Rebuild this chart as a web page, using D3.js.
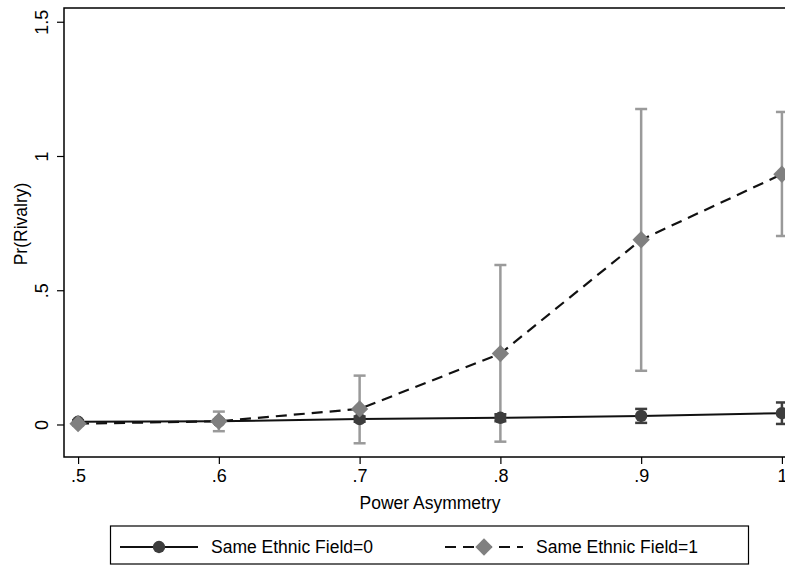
<!DOCTYPE html>
<html>
<head>
<meta charset="utf-8">
<script src="https://cdn.jsdelivr.net/npm/d3@7"></script>
<style>
	body { margin: 0; background: #fff; }
	svg { font-family: "Liberation Sans", Arial, Helvetica, sans-serif; }
</style>
</head>
<body>
<div id="chart"></div>
<script>
// x values (power asymmetry)
var powerAsym = [0.5, 0.6, 0.7, 0.8, 0.9, 1.0];
var xTickLabels = [".5", ".6", ".7", ".8", ".9", "1"];
var yTicks = [0, 0.5, 1, 1.5];
var yTickLabels = ["0", ".5", "1", "1.5"];

// Same Ethnic Field=0
var est0 = [0.010, 0.012, 0.020, 0.025, 0.032, 0.042];
var lo0 = [0.004, 0.006, 0.010, 0.012, 0.006, 0.002];
var hi0 = [0.016, 0.018, 0.030, 0.038, 0.058, 0.082];

// Same Ethnic Field=1
var est1 = [0.003, 0.012, 0.058, 0.264, 0.688, 0.932];
var lo1 = [-0.004, -0.025, -0.070, -0.064, 0.200, 0.702];
var hi1 = [0.010, 0.048, 0.182, 0.594, 1.175, 1.164];

var seriesNames = ["Same Ethnic Field=0", "Same Ethnic Field=1"];

var width = 785, height = 566;
var margin = {top: 8, right: -11, bottom: 109, left: 64};
var innerW = width - margin.left - margin.right;
var innerH = height - margin.top - margin.bottom;

var svg = d3.select("#chart").append("svg")
		.attr("width", width)
		.attr("height", height);

var g = svg.append("g")
		.attr("transform", "translate(" + margin.left + "," + margin.top + ")");

var xScale = d3.scaleLinear().domain([0.49, 1.01]).range([0, innerW]);
var yScale = d3.scaleLinear().domain([-0.1211, 1.5512]).range([innerH, 0]);

// frame
g.append("rect")
		.attr("x", 0).attr("y", 0)
		.attr("width", innerW).attr("height", innerH)
		.attr("fill", "none").attr("stroke", "#000").attr("stroke-width", 1.5);

// axes
var xAxis = d3.axisBottom(xScale)
		.tickValues(powerAsym)
		.tickFormat(function(d, i) { return xTickLabels[i]; })
		.tickSize(7).tickPadding(5);
var yAxis = d3.axisLeft(yScale)
		.tickValues(yTicks)
		.tickFormat(function(d, i) { return yTickLabels[i]; })
		.tickSize(7).tickPadding(9);

var gx = g.append("g").attr("transform", "translate(0," + innerH + ")").call(xAxis);
var gy = g.append("g").call(yAxis);
g.selectAll(".domain").remove();
g.selectAll(".tick line").attr("stroke", "#000").attr("stroke-width", 1.2);
gx.selectAll("text").attr("font-size", 18).attr("fill", "#000").attr("font-family", null);
gy.selectAll("text")
		.attr("font-size", 18).attr("fill", "#000").attr("font-family", null)
		.attr("transform", "rotate(-90)")
		.attr("x", 0).attr("y", -16)
		.attr("dy", 0)
		.attr("text-anchor", "middle");
gx.attr("font-family", null);
gy.attr("font-family", null);

// axis titles
svg.append("text")
		.attr("x", margin.left + innerW / 2).attr("y", 509)
		.attr("text-anchor", "middle").attr("font-size", 17.5)
		.text("Power Asymmetry");
svg.append("text")
		.attr("transform", "translate(27," + 224 + ") rotate(-90)")
		.attr("text-anchor", "middle").attr("font-size", 17.5)
		.text("Pr(Rivalry)");

var c0 = "#3d3d3d", c1 = "#808080", ci1 = "#9a9a9a";

function pts(est, lo, hi) {
	return powerAsym.map(function(x, i) { return {x: x, y: est[i], lo: lo[i], hi: hi[i]}; });
}
var d0 = pts(est0, lo0, hi0);
var d1 = pts(est1, lo1, hi1);

function errorBars(data, color, sw) {
	var eb = g.append("g").selectAll("g").data(data).enter().append("g")
			.attr("stroke", color).attr("stroke-width", sw);
	eb.append("line")
			.attr("x1", function(d) { return xScale(d.x); })
			.attr("x2", function(d) { return xScale(d.x); })
			.attr("y1", function(d) { return yScale(d.lo); })
			.attr("y2", function(d) { return yScale(d.hi); });
	eb.append("line")
			.attr("x1", function(d) { return xScale(d.x) - 6; })
			.attr("x2", function(d) { return xScale(d.x) + 6; })
			.attr("y1", function(d) { return yScale(d.lo); })
			.attr("y2", function(d) { return yScale(d.lo); });
	eb.append("line")
			.attr("x1", function(d) { return xScale(d.x) - 6; })
			.attr("x2", function(d) { return xScale(d.x) + 6; })
			.attr("y1", function(d) { return yScale(d.hi); })
			.attr("y2", function(d) { return yScale(d.hi); });
}

var line = d3.line()
		.x(function(d) { return xScale(d.x); })
		.y(function(d) { return yScale(d.y); });

errorBars(d0, c0, 2.5);
errorBars(d1, ci1, 2.5);

g.append("path").datum(d0)
		.attr("d", line).attr("fill", "none")
		.attr("stroke", "#111").attr("stroke-width", 2);
g.append("path").datum(d1)
		.attr("d", line).attr("fill", "none")
		.attr("stroke", "#111").attr("stroke-width", 2.2)
		.attr("stroke-dasharray", "11,7");

var circleSym = d3.symbol().type(d3.symbolCircle).size(120);
var diamondSym = d3.symbol().type(d3.symbolSquare).size(150);

g.append("g").selectAll("path").data(d0).enter().append("path")
		.attr("d", circleSym)
		.attr("transform", function(d) { return "translate(" + xScale(d.x) + "," + yScale(d.y) + ")"; })
		.attr("fill", c0);
g.append("g").selectAll("path").data(d1).enter().append("path")
		.attr("d", diamondSym)
		.attr("transform", function(d) { return "translate(" + xScale(d.x) + "," + yScale(d.y) + ") rotate(45)"; })
		.attr("fill", c1);

// legend
var legend = svg.append("g");
legend.append("rect")
		.attr("x", 110.5).attr("y", 526).attr("width", 638).attr("height", 38)
		.attr("fill", "#fff").attr("stroke", "#000").attr("stroke-width", 1.2);

var legendItems = [
	{x: 120, name: seriesNames[0], dash: null, sym: circleSym, color: c0, rot: 0},
	{x: 445, name: seriesNames[1], dash: "11,7", sym: diamondSym, color: c1, rot: 45}
];
var li = legend.selectAll(".legend-item").data(legendItems).enter().append("g")
		.attr("class", "legend-item")
		.attr("transform", function(d) { return "translate(" + d.x + ",547)"; });
li.append("line")
		.attr("x1", 0).attr("x2", 78).attr("y1", 0).attr("y2", 0)
		.attr("stroke", "#111").attr("stroke-width", 2)
		.attr("stroke-dasharray", function(d) { return d.dash; });
li.append("path")
		.attr("d", function(d) { return d.sym(); })
		.attr("transform", function(d) { return "translate(39,0) rotate(" + d.rot + ")"; })
		.attr("fill", function(d) { return d.color; });
li.append("text")
		.attr("x", 91).attr("y", 0).attr("dy", "0.35em")
		.attr("font-size", 17.5)
		.text(function(d) { return d.name; });
</script>
</body>
</html>
